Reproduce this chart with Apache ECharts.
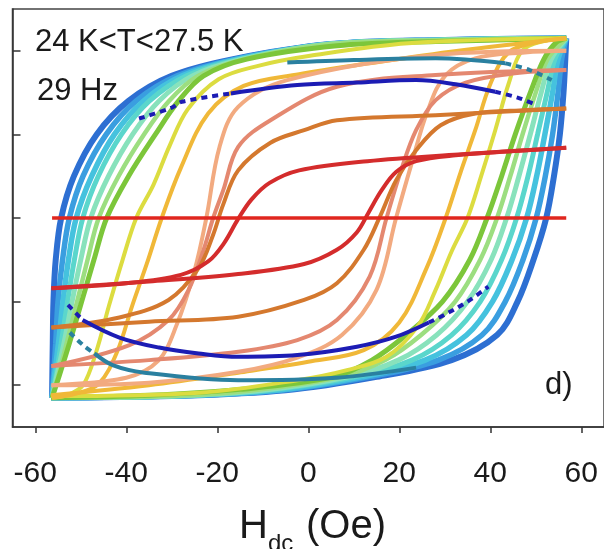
<!DOCTYPE html>
<html>
<head>
<meta charset="utf-8">
<script src="https://cdn.jsdelivr.net/npm/echarts@6/dist/echarts.min.js"></script>
<style>
html,body{margin:0;padding:0;background:#fff;}
#c{width:604px;height:549px;}
</style>
</head>
<body>
<div id="c"></div>
<script>
// ---- axis ticks ----
const xTicks = [-60, -40, -20, 0, 20, 40, 60];
const yTicks = [-2, -1, 0, 1, 2];

// ---- loops: ascending (Up) and descending (Down) branches, [H (Oe), signal] ----
const blueUp = [[-56.5,-2.15],[-30,-2.13],[-5,-2.06],[15,-1.9],[31.5,-1.7],[41.5,-1.4],[46,-1.0],[49.5,-0.5],[52.3,0],[54,0.5],[55.3,1.0],[56.1,1.5],[56.5,1.9],[56.7,2.15]];
const blueDown = [[56.7,2.15],[30,2.13],[5,2.08],[-16.5,1.9],[-30,1.7],[-39.5,1.4],[-46.5,1.0],[-51.5,0.5],[-54.3,0],[-55.5,-0.5],[-56.0,-1.0],[-56.15,-1.5],[-56.25,-1.9],[-56.3,-2.15]];
const skyUp = [[-56.5,-2.15],[-30,-2.13],[-6,-2.06],[13.4,-1.9],[28.6,-1.7],[38.2,-1.4],[43.3,-1.0],[47.2,-0.5],[50.1,0],[52.1,0.5],[53.7,1.0],[54.9,1.5],[55.7,1.9],[56.7,2.15]];
const skyDown = [[56.7,2.15],[30,2.13],[5,2.08],[-16.0,1.9],[-28.8,1.7],[-37.8,1.4],[-44.4,1.0],[-49.5,0.5],[-52.5,0],[-54.0,-0.5],[-55.0,-1.0],[-55.5,-1.5],[-56.0,-1.9],[-56.3,-2.15]];
const cyanUp = [[-56.5,-2.15],[-30,-2.13],[-7,-2.06],[11.8,-1.9],[25.7,-1.7],[34.8,-1.4],[40.5,-1.0],[44.8,-0.5],[48.0,0],[50.2,0.5],[52.0,1.0],[53.7,1.5],[54.9,1.9],[56.7,2.15]];
const cyanDown = [[56.7,2.15],[30,2.13],[5,2.08],[-15.5,1.9],[-27.7,1.7],[-36.2,1.4],[-42.6,1.0],[-47.6,0.5],[-51.0,0],[-52.7,-0.5],[-53.9,-1.0],[-54.9,-1.5],[-55.8,-1.9],[-56.3,-2.15]];
const aquaUp = [[-56.5,-2.15],[-30,-2.13],[-9,-2.06],[10.3,-1.9],[22.8,-1.7],[31.5,-1.4],[37.8,-1.0],[42.5,-0.5],[45.8,0],[48.3,0.5],[50.4,1.0],[52.5,1.5],[54.2,1.9],[56.7,2.15]];
const aquaDown = [[56.7,2.15],[30,2.13],[5,2.08],[-15.0,1.9],[-26.75,1.7],[-34.9,1.4],[-41.05,1.0],[-46.15,0.5],[-49.55,0],[-51.4,-0.5],[-52.9,-1.0],[-54.3,-1.5],[-55.5,-1.9],[-56.3,-2.15]];
const paleUp = [[-56.5,-2.15],[-30,-2.13],[-10,-2.06],[8.7,-1.9],[19.8,-1.7],[28.2,-1.4],[35.0,-1.0],[40.2,-0.5],[43.6,0],[46.3,0.5],[48.8,1.0],[51.2,1.5],[53.4,1.9],[56.7,2.15]];
const paleDown = [[56.7,2.15],[30,2.13],[5,2.08],[-14.5,1.9],[-25.5,1.7],[-32.8,1.4],[-38.6,1.0],[-43.9,0.5],[-47.8,0],[-50.0,-0.5],[-51.9,-1.0],[-53.7,-1.5],[-55.3,-1.9],[-56.3,-2.15]];
const lgreenUp = [[-56.5,-2.15],[-30,-2.13],[-12,-2.06],[7.1,-1.9],[16.9,-1.7],[24.8,-1.4],[32.3,-1.0],[37.8,-0.5],[41.5,0],[44.4,0.5],[47.1,1.0],[50.0,1.5],[52.6,1.9],[56.7,2.15]];
const lgreenDown = [[56.7,2.15],[30,2.13],[5,2.08],[-14.0,1.9],[-24.25,1.7],[-30.6,1.4],[-36.1,1.0],[-41.7,0.5],[-46.05,0],[-48.5,-0.5],[-50.8,-1.0],[-53.1,-1.5],[-55.0,-1.9],[-56.3,-2.15]];
const greenUp = [[-56.5,-2.15],[-35,-2.12],[-15,-2.05],[5.5,-1.9],[14,-1.7],[21.5,-1.4],[29.5,-1.0],[35.5,-0.5],[39.3,0],[42.5,0.5],[45.5,1.0],[48.8,1.5],[51.8,1.9],[54.5,2.1],[56.7,2.15]];
const greenDown = [[56.7,2.15],[28,2.11],[6.3,2.06],[-13.5,1.9],[-23,1.7],[-28.5,1.4],[-33.6,1.0],[-39.5,0.5],[-44.3,0],[-47.1,-0.5],[-49.8,-1.0],[-52.5,-1.5],[-54.8,-1.9],[-56.3,-2.15]];

const yellowUp = [[-56.5,-2.13],[-24,-2.09],[-2.4,-1.94],[8.5,-1.82],[17.2,-1.66],[24,-1.3],[28,-0.86],[31.5,-0.4],[35,0],[38,0.5],[41.1,1.05],[44,1.6],[47,2.0],[52,2.12],[56.7,2.15]];
const yellowDown = [[56.7,2.15],[22,2.09],[0.4,1.94],[-11,1.82],[-19.7,1.66],[-26.5,1.3],[-30.5,0.86],[-34,0.4],[-37.8,0],[-40.8,-0.5],[-43.8,-1.05],[-46.6,-1.6],[-49.5,-2.0],[-53,-2.12],[-56.3,-2.15]];
const yorangeUp = [[-56.5,-2.12],[-35,-2.0],[-15.4,-1.85],[0,-1.72],[12.2,-1.58],[20,-1.25],[26,-0.6],[30.2,0],[33.5,0.55],[36.7,1.05],[40,1.6],[44,1.98],[50,2.1],[56.7,2.15]];
const yorangeDown = [[56.7,2.15],[33,2.0],[13.4,1.85],[-2,1.72],[-14.2,1.58],[-22,1.25],[-28,0.6],[-32.2,0],[-35.5,-0.55],[-38.7,-1.05],[-42,-1.6],[-46,-1.98],[-51,-2.1],[-56.3,-2.15]];

const peachUp = [[-56.5,-2.0],[-35,-1.97],[-15.4,-1.84],[-2.4,-1.67],[7.4,-1.40],[15,-0.86],[19.3,0],[22.6,0.63],[26.3,1.29],[30.2,1.71],[36.7,1.91],[47.6,1.98],[56.7,2.0]];
const peachDown = [[56.7,2.0],[28,1.95],[-4.6,1.65],[-15.4,1.33],[-19.5,0.85],[-22.4,0],[-25,-0.63],[-29,-1.29],[-33,-1.71],[-40,-1.91],[-56.3,-2.0]];
const salmonUp = [[-56.5,-1.77],[-35,-1.70],[-15.4,-1.60],[-2.4,-1.46],[6.3,-1.22],[13.5,-0.70],[17.2,0],[20.4,0.57],[23.7,1.05],[28,1.41],[34.6,1.62],[45.4,1.73],[56.7,1.77]];
const salmonDown = [[56.7,1.77],[28,1.71],[6.3,1.57],[-8.3,1.17],[-15.4,0.85],[-18.7,0.33],[-20.9,0],[-23,-0.38],[-26.3,-0.86],[-30.7,-1.22],[-39.3,-1.52],[-56.3,-1.77]];
const orangeUp = [[-56.5,-1.31],[-35,-1.24],[-15.4,-1.18],[-0.9,-0.98],[6.3,-0.78],[12.2,-0.38],[15.7,0.01],[19.3,0.45],[23.7,0.81],[29.1,1.11],[36.7,1.25],[47.6,1.29],[56.7,1.31]];
const orangeDown = [[56.7,1.31],[28,1.23],[6.3,1.17],[-0.9,1.05],[-8.3,0.90],[-15.4,0.57],[-18.7,0.16],[-20.9,-0.20],[-24.1,-0.60],[-30.7,-0.98],[-41.5,-1.19],[-56.3,-1.31]];
const redUp = [[-56.5,-0.84],[-35,-0.76],[-15.4,-0.67],[-0.9,-0.55],[6.3,-0.38],[10.7,-0.17],[13.3,0.07],[16.1,0.33],[19.3,0.55],[23.7,0.68],[32.4,0.75],[45.4,0.80],[56.7,0.84]];
const redDown = [[56.7,0.84],[33,0.76],[13,0.68],[-2,0.57],[-8.5,0.42],[-12.5,0.22],[-15.5,-0.02],[-18.5,-0.30],[-22,-0.52],[-28,-0.68],[-40,-0.78],[-56.3,-0.84]];
const flatRed = [[-56.3,0],[56.7,0]];

// ---- lens-shaped curves (solid middle, dashed ends) ----
const navyTop = [[-17,1.49],[-2.4,1.59],[10.7,1.62],[23.7,1.65],[32.4,1.60],[41.1,1.51]];
const navyTopDash = [[-37.2,1.19],[-30,1.32],[-27.8,1.39],[-17,1.49]];
const navyTopDash2 = [[41.1,1.51],[46,1.44],[49.8,1.36]];
const navyBot = [[-49.6,-1.22],[-41.5,-1.43],[-32.8,-1.55],[-24.1,-1.62],[-15.4,-1.66],[-2.4,-1.64],[10.7,-1.54],[19.3,-1.42],[26.5,-1.25]];
const navyBotDash = [[-52.8,-1.04],[-49.6,-1.22]];
const navyBotDash2 = [[26.5,-1.25],[30.2,-1.15],[35,-1.0],[39.6,-0.82]];
const tealTop = [[-4.6,1.86],[10,1.89],[28,1.91],[43.3,1.85]];
const tealTopDash = [[43.3,1.85],[48.7,1.77],[53.5,1.65]];
const tealBot = [[-47,-1.62],[-43,-1.76],[-36,-1.85],[-15.4,-1.94],[6.3,-1.91],[23.7,-1.79]];
const tealBotDash = [[-52.4,-1.37],[-49.5,-1.52],[-47,-1.62]];

const loops = [
  ['#2d6fd2', blueUp, blueDown, 6],
  ['#3a9ee0', skyUp, skyDown, 5.5],
  ['#45c2de', cyanUp, cyanDown, 5.5],
  ['#5ad6cc', aquaUp, aquaDown, 5],
  ['#88e2bc', paleUp, paleDown, 5],
  ['#9cde80', lgreenUp, lgreenDown, 4.5],
  ['#7cc63a', greenUp, greenDown, 5],
  ['#dcdc40', yellowUp, yellowDown, 4],
  ['#f0b838', yorangeUp, yorangeDown, 4],
  ['#f2aa80', peachUp, peachDown, 4],
  ['#e48870', salmonUp, salmonDown, 4],
  ['#d4782e', orangeUp, orangeDown, 4],
  ['#d42c2c', redUp, redDown, 4]
];

const series = [];
loops.forEach(function (l) {
  [l[1], l[2]].forEach(function (d) {
    series.push({type: 'line', data: d, smooth: 0.35, showSymbol: false, silent: true,
      lineStyle: {color: l[0], width: l[3]}});
  });
});
series.push({type: 'line', data: flatRed, showSymbol: false, lineStyle: {color: '#e0261e', width: 3.5}});
[[tealTop, 'solid'], [tealBot, 'solid'], [tealTopDash, 'dashed'], [tealBotDash, 'dashed']].forEach(function (p) {
  series.push({type: 'line', data: p[0], smooth: 0.35, showSymbol: false,
    lineStyle: {color: '#2a80a0', width: 4, type: p[1] === 'dashed' ? [6, 5] : 'solid'}});
});
[[navyTop, 'solid'], [navyBot, 'solid'], [navyTopDash, 'dashed'], [navyTopDash2, 'dashed'], [navyBotDash, 'dashed'], [navyBotDash2, 'dashed']].forEach(function (p) {
  series.push({type: 'line', data: p[0], smooth: 0.35, showSymbol: false,
    lineStyle: {color: '#1c1cb4', width: 4, type: p[1] === 'dashed' ? [6, 5] : 'solid'}});
});

const chart = echarts.init(document.getElementById('c'), null, {renderer: 'canvas'});
chart.setOption({
  animation: false,
  backgroundColor: '#fff',
  grid: {left: 12.5, top: 9, right: -6, bottom: 122, show: true, borderColor: '#444', borderWidth: 1.5, backgroundColor: 'transparent'},
  xAxis: {
    type: 'value', min: -65, max: 65,
    axisLine: {show: true, onZero: false, lineStyle: {color: '#333', width: 1.5}},
    axisTick: {show: true, customValues: xTicks, length: 6, lineStyle: {color: '#333', width: 1.5}},
    axisLabel: {customValues: xTicks, fontSize: 30, color: '#1a1a1a', fontFamily: 'Liberation Sans, Arial, sans-serif', margin: 32},
    splitLine: {show: false}
  },
  yAxis: {
    type: 'value', min: -2.5, max: 2.5,
    axisLine: {show: true, onZero: false, lineStyle: {color: '#333', width: 1.5}},
    axisTick: {show: true, inside: true, customValues: yTicks, length: 8, lineStyle: {color: '#333', width: 1.5}},
    axisLabel: {show: false},
    splitLine: {show: false}
  },
  series: series,
  graphic: [
    {type: 'text', left: 35, top: 27, style: {text: '24 K<T<27.5 K', font: '31px "Liberation Sans", Arial, sans-serif', fill: '#1a1a1a'}},
    {type: 'text', left: 37, top: 76, style: {text: '29 Hz', font: '31px "Liberation Sans", Arial, sans-serif', fill: '#1a1a1a'}},
    {type: 'text', left: 545, top: 370, style: {text: 'd)', font: '31px "Liberation Sans", Arial, sans-serif', fill: '#1a1a1a'}},
    {type: 'text', left: 239, top: 507, style: {text: 'H', font: '40px "Liberation Sans", Arial, sans-serif', fill: '#1a1a1a'}},
    {type: 'text', left: 268, top: 532, style: {text: 'dc', font: '24px "Liberation Sans", Arial, sans-serif', fill: '#1a1a1a'}},
    {type: 'text', left: 306, top: 507, style: {text: '(Oe)', font: '40px "Liberation Sans", Arial, sans-serif', fill: '#1a1a1a'}}
  ]
});
</script>
</body>
</html>
